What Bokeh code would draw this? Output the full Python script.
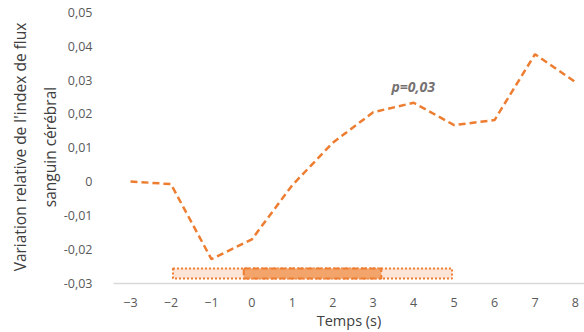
from bokeh.plotting import figure
from bokeh.models import Range1d, FixedTicker, CustomJSTickFormatter, Label
from bokeh.embed import file_html
from bokeh.resources import INLINE

# Data
temps = [-3, -2, -1, 0, 1, 2, 3, 4, 5, 6, 7, 8]
variation = [0.0001, -0.0007, -0.0228, -0.0170, -0.0010, 0.0115, 0.0205, 0.0233, 0.0167, 0.0182, 0.0376, 0.0294]
y_ticks = [-0.03, -0.02, -0.01, 0, 0.01, 0.02, 0.03, 0.04, 0.05]
# intervals: [start, end]
interval_light = [-1.95, 4.95]
interval_dark = [-0.2, 3.2]
band = [-0.0285, -0.0256]
p_text = "p=0,03"
p_pos = [3.45, 0.0281]

ORANGE = "#ED7D31"
FONT = "Open Sans"

p = figure(width=584, height=332, output_backend="svg", toolbar_location=None,
           x_range=Range1d(-3.42, 8.224), y_range=Range1d(-0.03, 0.0505),
           min_border_left=113, min_border_right=0, min_border_top=10, min_border_bottom=0)
p.outline_line_color = None
p.grid.visible = False
p.background_fill_color = "white"

# Bands
p.quad(left=[interval_light[0]], right=[interval_light[1]], bottom=[band[0]], top=[band[1]],
       fill_color="#FCE4D6", line_color=ORANGE, line_width=2, line_dash="2 2")
p.quad(left=[interval_dark[0]], right=[interval_dark[1]], bottom=[band[0]], top=[band[1]],
       fill_color="#F3A46B", line_color=ORANGE, line_width=2, line_dash="6 3")

# Line
p.line(temps, variation, line_color=ORANGE, line_width=2.5, line_dash="7 4")

p.add_layout(Label(x=p_pos[0], y=p_pos[1], text=p_text, text_font=FONT, text_font_style="bold italic",
                   text_font_size="14px", text_color="#767171", text_baseline="middle"))

# X axis
xa = p.xaxis[0]
xa.ticker = FixedTicker(ticks=temps)
xa.axis_line_color = "#D9D9D9"
xa.axis_line_width = 1.5
xa.major_tick_line_color = None
xa.minor_tick_line_color = None
xa.major_label_standoff = 8
xa.major_label_text_font = FONT
xa.major_label_text_font_size = "12.5px"
xa.major_label_text_color = "#595959"
xa.axis_label = "Temps (s)"
xa.axis_label_text_font = FONT
xa.axis_label_text_font_style = "normal"
xa.axis_label_text_font_size = "14.5px"
xa.axis_label_text_color = "#404040"
xa.axis_label_standoff = 1

# Y axis
ya = p.yaxis[0]
ya.ticker = FixedTicker(ticks=y_ticks)
ya.formatter = CustomJSTickFormatter(code="""
    if (Math.abs(tick) < 1e-9) return '0';
    return tick.toFixed(2).replace('.', ',');
""")
ya.axis_line_color = None
ya.major_tick_line_color = None
ya.minor_tick_line_color = None
ya.major_label_standoff = 15
ya.major_label_text_font = FONT
ya.major_label_text_font_size = "12.5px"
ya.major_label_text_color = "#595959"
ya.axis_label = "Variation relative de l'index de flux\nsanguin cérébral"
ya.axis_label_text_font = FONT
ya.axis_label_text_font_style = "normal"
ya.axis_label_text_font_size = "15.5px"
ya.axis_label_text_line_height = 1.35
ya.axis_label_text_color = "#404040"
ya.axis_label_standoff = 0

open("out.html", "w").write(file_html(p, INLINE))
